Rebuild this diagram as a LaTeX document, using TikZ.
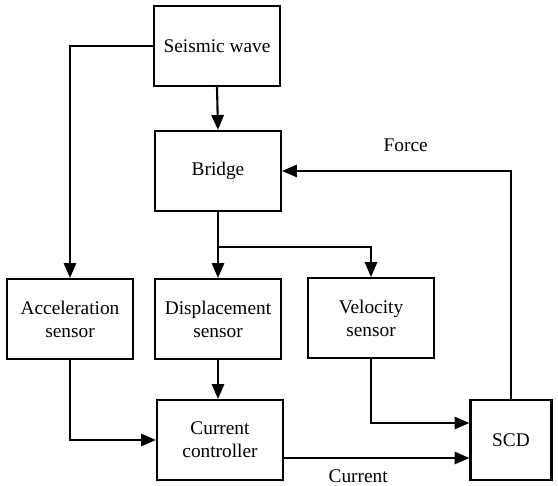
\documentclass[tikz,border=0pt]{standalone}
\usepackage{fontspec}
\setmainfont{Liberation Serif}
\usetikzlibrary{arrows.meta}
\begin{document}
\begin{tikzpicture}[x=0.02cm,y=-0.02cm,
    block/.style={draw,line width=1.2pt,minimum width=2.52cm,minimum height=1.6cm,
                  align=center,inner sep=0pt,font=\rmfamily\fontsize{11}{13}\selectfont},
    link/.style={line width=1.2pt,-{Triangle[length=8.5pt,width=7pt]}},
    tag/.style={font=\rmfamily\fontsize{11}{13}\selectfont}]
    \useasboundingbox (0,0) rectangle (558,486);

    % blocks
    \node[block] (wave)   at (217,46)  {Seismic wave};
    \node[block] (bridge) at (218,171) {Bridge};
    \node[block] (accel)  at (70,319)  {Acceleration\\sensor};
    \node[block] (disp)   at (218,319) {Displacement\\sensor};
    \node[block] (vel)    at (371,318) {Velocity\\sensor};
    \node[block] (ctrl)   at (220,440) {Current\\controller};
    \node[block, minimum width=1.62cm] (scd) at (511,440) {SCD};
    \coordinate (split) at (218,247);

    % connectors
    \draw[link] (wave.south) -- (bridge.north);
    \draw[link] (wave.west) -| (accel.north);
    \draw[line width=1.2pt] (bridge.south) -- (split);
    \draw[link] (split) -- (disp.north);
    \draw[link] (split) -| (vel.north);
    \draw[link] (scd.north) |- node[tag, pos=0.73, above=7pt] {Force} (bridge.east);
    \draw[link] (accel.south) |- (ctrl.west);
    \draw[link] (disp.south) -- (disp.south |- ctrl.north);
    \draw[link] (vel.south) |- ([yshift=0.34cm]scd.west);
    \draw[link] ([yshift=-0.36cm]ctrl.east) -- node[tag, pos=0.4, below=3pt] {Current} ([yshift=-0.36cm]scd.west);
\end{tikzpicture}
\end{document}
